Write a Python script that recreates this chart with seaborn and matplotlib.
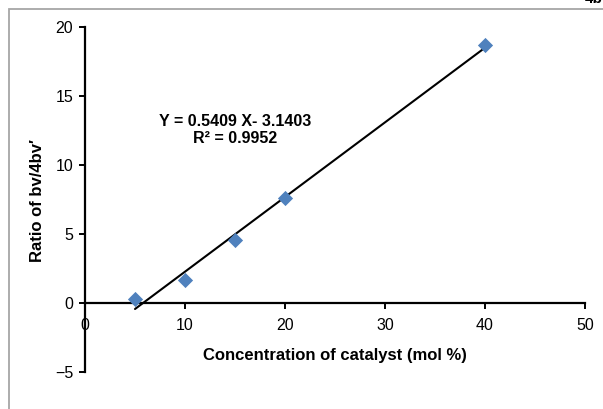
"""
Ratio of bv/4bv' vs concentration of catalyst, with linear trendline.
"""

import numpy as np
import pandas as pd
import matplotlib
matplotlib.use("Agg")
import matplotlib.pyplot as plt
from matplotlib.patches import Rectangle
import seaborn as sns

# data
catalyst_conc = [5, 10, 15, 20, 40]
ratio_bv = [0.3, 1.7, 4.6, 7.6, 18.7]

# trendline given on the chart
slope = 0.5409
intercept = -3.1403
r_squared = 0.9952

x_ticks = [0, 10, 20, 30, 40, 50]
y_ticks = [-5, 0, 5, 10, 15, 20]

POINT_COLOR = "#4F81BD"

sns.set_theme(style="white")
plt.rcParams["font.family"] = ["Liberation Sans", "DejaVu Sans"]
plt.rcParams["text.color"] = "black"

df = pd.DataFrame({"conc": catalyst_conc, "ratio": ratio_bv})

fig = plt.figure(figsize=(6.03, 4.09), dpi=100)
ax = fig.add_axes([0.141, 0.0905, 0.829, 0.8435])

# trendline between the smallest and largest concentration
x_fit = np.array([min(catalyst_conc), max(catalyst_conc)], dtype=float)
fit_df = pd.DataFrame({"conc": x_fit, "ratio": slope * x_fit + intercept})
sns.lineplot(data=fit_df, x="conc", y="ratio", color="black", linewidth=1.5, ax=ax, zorder=2)

sns.scatterplot(data=df, x="conc", y="ratio", marker="D", s=60, color=POINT_COLOR,
                edgecolor=POINT_COLOR, linewidth=0, ax=ax, zorder=3)

ax.set_xlim(0, 50)
ax.set_ylim(-5, 20)
ax.set_xticks(x_ticks)
ax.set_yticks(y_ticks)
ax.set_yticklabels([str(t).replace("-", "\u2212") for t in y_ticks])

# axes cross at zero like the Excel chart
for side in ["top", "right"]:
    ax.spines[side].set_visible(False)
ax.spines["left"].set_position(("data", 0))
ax.spines["bottom"].set_position(("data", 0))
for side in ["left", "bottom"]:
    ax.spines[side].set_color("black")
    ax.spines[side].set_linewidth(1.6)
ax.tick_params(axis="both", direction="out", length=4.5, width=1.4, color="black",
               labelsize=11.5, labelcolor="black", left=True, bottom=True)
ax.tick_params(axis="x", pad=6)
ax.tick_params(axis="y", pad=4)

ax.set_xlabel("")
ax.set_ylabel("")
fig.text(0.556, 0.132, "Concentration of catalyst (mol %)", ha="center", va="center",
         fontsize=12, fontweight="bold", color="black")
fig.text(0.063, 0.51, "Ratio of bv/4bv\u2032", ha="center", va="center", rotation=90,
         fontsize=12, fontweight="bold", color="black")

eq_text = f"Y = {slope:.4f} X- {abs(intercept):.4f}\nR\u00b2 = {r_squared:.4f}"
ax.text(15, 12.55, eq_text, ha="center", va="center", fontsize=11.5,
        fontweight="bold", linespacing=1.15, color="black")

# chart area border (runs off the image at right and bottom)
fig.patches.append(Rectangle((9 / 603, -0.05), 1.2, (409 - 9) / 409 + 0.05,
                             transform=fig.transFigure, fill=False,
                             edgecolor="#A6A6A6", linewidth=1.3))
fig.text(0.985, 1.003, "4b", ha="center", va="center", fontsize=11, fontweight="bold",
         color="black")

fig.savefig("out.png", dpi=100)
